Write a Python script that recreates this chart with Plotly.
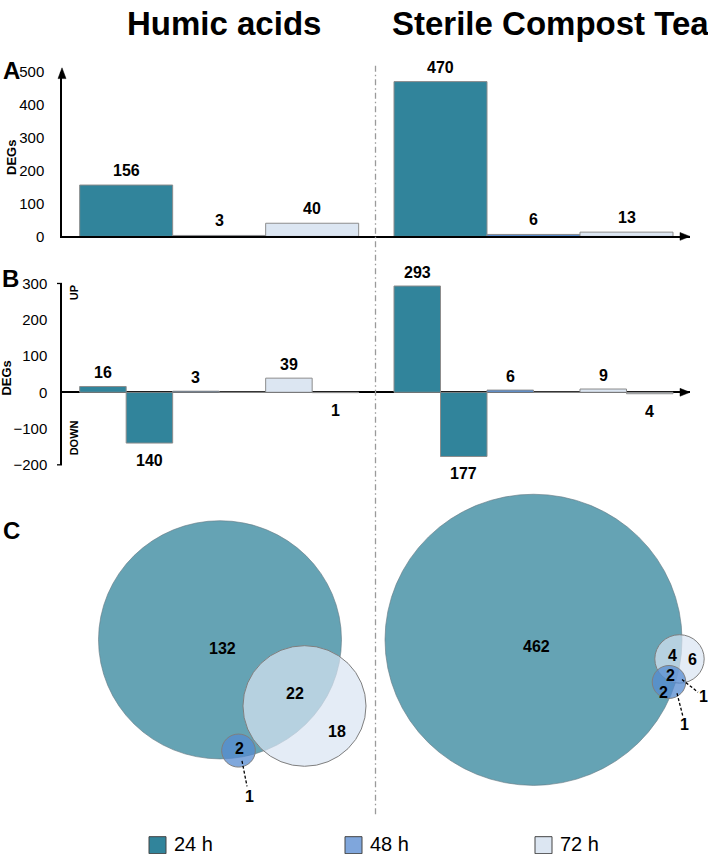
import plotly.graph_objects as go
import math

# ---------------- data ----------------
time_points = ["24 h", "48 h", "72 h"]
treatments = ["Humic acids", "Sterile Compost Tea"]
total_degs_ha = [156, 3, 40]
total_degs_sct = [470, 6, 13]
up_degs_ha = [16, 3, 39]
down_degs_ha = [140, 0, 1]
up_degs_sct = [293, 6, 9]
down_degs_sct = [177, 0, 4]
a_ticks = [0, 100, 200, 300, 400, 500]
b_ticks = [-200, -100, 0, 100, 200, 300]

# Venn region counts (sets each region belongs to)
venn_ha_regions = [("24",), ("24", "72"), ("72",), ("24", "48"), ("48",)]
venn_ha_counts = [132, 22, 18, 2, 1]
venn_sct_regions = [("24",), ("24", "72"), ("72",), ("24", "48", "72"), ("24", "48"), ("48", "72"), ("48",)]
venn_sct_counts = [462, 4, 6, 2, 2, 1, 1]

# ---------------- layout constants ----------------
W, H = 708, 862
FONT = "Liberation Sans, Arial, Helvetica, sans-serif"
C24, C48, C72 = "#31849b", "#5a8fd2", "#dce6f2"
BAR_COLORS = [C24, "#558ed5", C72]
LEG_COLORS = [C24, "#7fa6dc", C72]
OUTLINE = "#8c8c8c"

AX_X0, AX_X1 = 62, 690      # pixel extent of bar axes
BAR_PX = 93                 # pixel width of one bar slot
A_Y0, A_Y1 = 232, 64        # pixel of 0 and 500
B_Y0, B_Y1 = 465, 280       # pixel of -200 and 300
group_start = [0.19, 3.57]  # slot start (in bar units) of each treatment group

def dom_y(p_bottom, p_top):
    return [1 - p_bottom / H, 1 - p_top / H]

fig = go.Figure()

centers = []
for g in range(2):
    centers.append([group_start[g] + i + 0.5 for i in range(3)])

totals = [total_degs_ha, total_degs_sct]
ups = [up_degs_ha, up_degs_sct]
downs = [down_degs_ha, down_degs_sct]

annotations = []
bold = dict(family=FONT, size=16, color="black", weight=700)

# ---- Panel A ----
for t in range(3):
    xs = [centers[g][t] for g in range(2)]
    ys = [totals[g][t] for g in range(2)]
    fig.add_trace(go.Bar(x=xs, y=ys, width=1.0, marker=dict(color=BAR_COLORS[t], line=dict(color=OUTLINE, width=1)),
                         xaxis="x", yaxis="y", showlegend=False, hoverinfo="skip"))
    for x, y in zip(xs, ys):
        annotations.append(dict(x=x, y=y, xref="x", yref="y", text=str(y), showarrow=False,
                                yshift=14.5, font=bold))

# ---- Panel B ----
for t in range(3):
    xs_up = [centers[g][t] - 0.25 for g in range(2)]
    ys_up = [ups[g][t] for g in range(2)]
    xs_dn = [centers[g][t] + 0.25 for g in range(2)]
    ys_dn = [-downs[g][t] for g in range(2)]
    fig.add_trace(go.Bar(x=xs_up + xs_dn, y=ys_up + ys_dn, width=0.5,
                         marker=dict(color=BAR_COLORS[t], line=dict(color=OUTLINE, width=1)),
                         xaxis="x2", yaxis="y2", showlegend=False, hoverinfo="skip"))
    for x, y in zip(xs_up, ys_up):
        if y:
            annotations.append(dict(x=x, y=y, xref="x2", yref="y2", text=str(y), showarrow=False,
                                    yshift=13.5, font=bold))
    for x, y in zip(xs_dn, ys_dn):
        if y:
            annotations.append(dict(x=x, y=y, xref="x2", yref="y2", text=str(-y), showarrow=False,
                                    yshift=-17.5, font=bold))

# ---- Legend markers (pixel overlay) ----
leg_x = [157.5, 353.5, 543.5]
leg_y = 853
for t in range(3):
    fig.add_trace(go.Scatter(x=[leg_x[t]], y=[leg_y], mode="markers",
                             marker=dict(symbol="square", size=17, color=LEG_COLORS[t],
                                         line=dict(color="#444444", width=1)),
                             xaxis="x3", yaxis="y3", showlegend=False, hoverinfo="skip"))
    annotations.append(dict(x=leg_x[t] + 14, y=leg_y - 1, xref="x3", yref="y3", text=time_points[t],
                            showarrow=False, xanchor="left", yanchor="middle",
                            font=dict(family=FONT, size=20, color="black")))

shapes = []

# ---- Venn diagrams ----
def set_sizes(regions, counts):
    s = {"24": 0, "48": 0, "72": 0}
    for r, c in zip(regions, counts):
        for k in r:
            s[k] += c
    return s

venn_cfg = [
    dict(regions=venn_ha_regions, counts=venn_ha_counts, r24=121.5,
         centers={"24": (220, 643.5), "72": (304.5, 711), "48": (238.5, 756.5)},
         labels=[(222, 652), (295, 698), (337, 737), (239, 754), (249, 803)],
         leaders=[((242, 767), (247, 793))]),
    dict(regions=venn_sct_regions, counts=venn_sct_counts, r24=148.5,
         centers={"24": (533.5, 643.5), "72": (679.5, 663), "48": (669, 686.5)},
         labels=[(536, 650), (672, 659), (692, 664), (670, 680), (663, 697), (703, 701), (684, 730)],
         leaders=[((682, 684), (698, 697)), ((677, 698), (683, 722))]),
]
fills = {"24": "rgba(49,132,155,0.75)", "72": "rgba(216,228,242,0.70)", "48": "rgba(86,139,208,0.75)"}
lines = {"24": "rgba(100,120,130,0.6)", "72": "#7f7f7f", "48": "#7f7f7f"}
for cfg in venn_cfg:
    sizes = set_sizes(cfg["regions"], cfg["counts"])
    k = cfg["r24"] / math.sqrt(sizes["24"])
    for key in ["24", "72", "48"]:
        cx, cy = cfg["centers"][key]
        r = k * math.sqrt(sizes[key])
        shapes.append(dict(type="circle", xref="x3", yref="y3", x0=cx - r, x1=cx + r, y0=cy - r, y1=cy + r,
                           fillcolor=fills[key], line=dict(color=lines[key], width=1), layer="above"))
    for (p0, p1) in cfg["leaders"]:
        shapes.append(dict(type="line", xref="x3", yref="y3", x0=p0[0], y0=p0[1], x1=p1[0], y1=p1[1],
                           line=dict(color="black", width=1.3, dash="3px,2px"), layer="above"))
    for (lx, ly), c in zip(cfg["labels"], cfg["counts"]):
        annotations.append(dict(x=lx, y=ly, xref="x3", yref="y3", text=str(c), showarrow=False,
                                font=bold))

# ---- axis arrows & divider ----
def tri(path):
    return dict(type="path", xref="x3", yref="y3", path=path, fillcolor="black", line=dict(color="black", width=0.5),
                layer="above")
shapes.append(tri("M 62 60 L 58 71 L 66 71 Z"))
shapes.append(tri(f"M {AX_X1} {A_Y0} L {AX_X1-10} {A_Y0-4} L {AX_X1-10} {A_Y0+4} Z"))
shapes.append(tri(f"M {AX_X1} 391 L {AX_X1-10} 387 L {AX_X1-10} 395 Z"))
shapes.append(dict(type="line", xref="x3", yref="y3", x0=375.5, x1=375.5, y0=58, y1=823,
                   line=dict(color="#9a9a9a", width=1.3, dash="6px,3px,1.5px,3px"), layer="below"))
# y-axis end caps for panel B
shapes.append(dict(type="line", xref="x3", yref="y3", x0=57, x1=62, y0=B_Y1, y1=B_Y1, line=dict(color="black", width=1.3)))
shapes.append(dict(type="line", xref="x3", yref="y3", x0=57, x1=62, y0=B_Y0, y1=B_Y0, line=dict(color="black", width=1.3)))

# ---- text: titles, panel letters, axis titles ----
annotations += [
    dict(x=223.5, y=15, xref="x3", yref="y3", text=treatments[0], showarrow=False,
         font=dict(family=FONT, size=33, color="black", weight=700)),
    dict(x=550, y=15, xref="x3", yref="y3", text=treatments[1], showarrow=False,
         font=dict(family=FONT, size=33, color="black", weight=700)),
]
for letter, (lx, ly) in zip(["A", "B", "C"], [(11, 63), (10, 275), (11, 532)]):
    annotations.append(dict(x=lx, y=ly, xref="x3", yref="y3", text=letter, showarrow=False,
                            font=dict(family=FONT, size=24, color="black", weight=700)))
small_bold = dict(family=FONT, size=13, color="black", weight=700)
annotations += [
    dict(x=11, y=152, xref="x3", yref="y3", text="DEGs", textangle=-90, showarrow=False, font=small_bold),
    dict(x=7, y=377, xref="x3", yref="y3", text="DEGs", textangle=-90, showarrow=False, font=small_bold),
    dict(x=74, y=290, xref="x3", yref="y3", text="UP", textangle=-90, showarrow=False,
         font=dict(family=FONT, size=11, color="black", weight=700)),
    dict(x=74, y=438, xref="x3", yref="y3", text="DOWN", textangle=-90, showarrow=False,
         font=dict(family=FONT, size=11, color="black", weight=700)),
]

x_range = [0, (AX_X1 - AX_X0) / BAR_PX]
x_dom = [AX_X0 / W, AX_X1 / W]
tickfont = dict(family=FONT, size=15, color="black")

fig.update_layout(
    width=W, height=H, margin=dict(l=0, r=0, t=0, b=0),
    paper_bgcolor="white", plot_bgcolor="rgba(0,0,0,0)",
    barmode="overlay", hovermode=False, showlegend=False,
    xaxis=dict(domain=x_dom, range=x_range, anchor="y", showgrid=False, zeroline=False,
               showticklabels=False, showline=True, linecolor="black", linewidth=1.5, fixedrange=True),
    yaxis=dict(domain=dom_y(A_Y0, A_Y1), range=[0, 500], anchor="x", tickvals=a_ticks, showgrid=False,
               zeroline=False, showline=True, linecolor="black", linewidth=1.5, ticks="",
               tickfont=tickfont, ticklabelstandoff=13, fixedrange=True),
    xaxis2=dict(domain=x_dom, range=x_range, anchor="y2", showgrid=False, zeroline=False,
                showticklabels=False, showline=False, fixedrange=True),
    yaxis2=dict(domain=dom_y(B_Y0, B_Y1), range=[-200, 300], anchor="x2", tickvals=b_ticks, showgrid=False,
                zeroline=True, zerolinecolor="black", zerolinewidth=1.5, showline=True, linecolor="black",
                linewidth=1.5, ticks="", tickfont=tickfont, ticklabelstandoff=10, fixedrange=True),
    xaxis3=dict(domain=[0, 1], range=[0, W], anchor="y3", visible=False, fixedrange=True),
    yaxis3=dict(domain=[0, 1], range=[H, 0], anchor="x3", visible=False, fixedrange=True),
    annotations=annotations, shapes=shapes,
)

fig.write_html("out.html", config={"displayModeBar": False},
               post_script="document.body.style.margin='0px';document.body.style.padding='0px';")
